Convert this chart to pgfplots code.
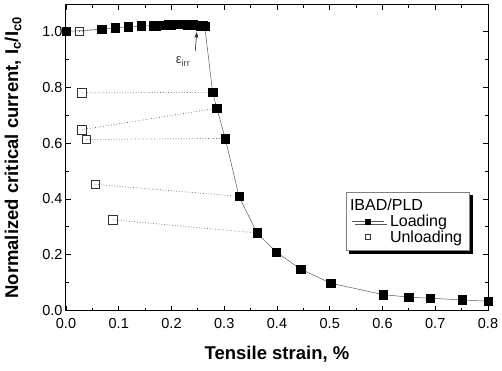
\documentclass[border=0pt]{standalone}
\usepackage{fontspec}
\setmainfont{Liberation Sans}
\usepackage{pgfplots}
\pgfplotsset{compat=1.18}
\usetikzlibrary{shadows,arrows.meta}
\pgfplotsset{
  loadleg/.style={legend image code/.code={\draw[mark repeat=2,mark phase=2,##1] plot coordinates {(0pt,0pt) (16pt,0pt) (32pt,0pt)}; \path (36pt,0pt);}},
  unloadleg/.style={legend image code/.code={\path (0pt,0pt) (36pt,0pt); \draw[##1] plot coordinates {(16pt,0pt)};}},
}

\begin{document}
\begin{tikzpicture}
\begin{axis}[
  scale only axis, width=422pt, height=305.5pt,
  xmin=0, xmax=0.8, ymin=0, ymax=1.095,
  xtick={0,0.1,0.2,0.3,0.4,0.5,0.6,0.7,0.8},
  ytick={0,0.2,0.4,0.6,0.8,1.0},
  minor x tick num=1, minor y tick num=1,
  tick align=inside, major tick length=5pt, minor tick length=3pt,
  every tick/.style={black, line width=0.8pt},
  axis line style={line width=1pt},
  /pgf/number format/.cd, fixed, fixed zerofill, precision=1, assume math mode=true, /pgfplots/.cd,
  ticklabel style={font=\fontsize{14.5}{16}\selectfont},
  xticklabel style={yshift=-4pt},
  xlabel={\bfseries Tensile strain, \%},
  ylabel={\bfseries Normalized critical current, I\textsubscript{c}/I\textsubscript{c0}},
  label style={font=\fontsize{18.5}{20}\selectfont},
  xlabel style={yshift=-11pt},
  ylabel style={yshift=14pt},
  legend cell align=left,
  legend style={at={(rel axis cs:0.663,0.388)}, anchor=north west, draw=gray, line width=0.5pt,
    fill=white, drop shadow={shadow xshift=3pt, shadow yshift=-3pt, fill=black, opacity=1},
    font=\fontsize{16}{18}\selectfont, inner xsep=5.5pt, inner ysep=5pt, row sep=-1.5pt},
  legend image post style={mark size=2.6pt},
]
\addlegendimage{empty legend}
\addlegendentry{\hspace*{-40pt}IBAD/PLD}

% unloading connectors
\addplot[forget plot, dotted, black!60, line width=0.7pt] coordinates {(0.025,1.0) (0.068,1.008)};
\addplot[forget plot, dotted, black!60, line width=0.7pt] coordinates {(0.030,0.780) (0.278,0.782)};
\addplot[forget plot, dotted, black!60, line width=0.7pt] coordinates {(0.030,0.648) (0.286,0.725)};
\addplot[forget plot, dotted, black!60, line width=0.7pt] coordinates {(0.039,0.613) (0.302,0.617)};
\addplot[forget plot, dotted, black!60, line width=0.7pt] coordinates {(0.056,0.452) (0.328,0.409)};
\addplot[forget plot, dotted, black!60, line width=0.7pt] coordinates {(0.089,0.325) (0.362,0.278)};

% loading
\addplot[black!65, line width=0.5pt, mark=square*, mark size=4.2pt,
  mark options={fill=black, draw=black, solid}, loadleg] coordinates {
  (0.0,1.0) (0.068,1.008) (0.093,1.013) (0.118,1.017) (0.143,1.02)
  (0.165,1.02) (0.170,1.021) (0.175,1.022) (0.180,1.022) (0.185,1.023) (0.190,1.023)
  (0.195,1.024) (0.200,1.024) (0.205,1.025) (0.210,1.025) (0.215,1.025) (0.220,1.025)
  (0.225,1.025) (0.230,1.024) (0.235,1.024) (0.240,1.024) (0.245,1.023) (0.250,1.022)
  (0.255,1.021) (0.260,1.02) (0.263,1.018)
  (0.278,0.782) (0.286,0.724) (0.302,0.616) (0.328,0.409) (0.362,0.278)
  (0.399,0.209) (0.445,0.148) (0.502,0.098) (0.601,0.057) (0.650,0.048)
  (0.690,0.044) (0.751,0.038) (0.800,0.033)
};
\addlegendentry{Loading}

% unloading
\addplot[only marks, mark=square, mark size=4.2pt,
  mark options={draw=black!80, line width=0.6pt, fill=white}, unloadleg] coordinates {
  (0.025,1.0) (0.030,0.780) (0.030,0.648) (0.039,0.613) (0.056,0.452) (0.089,0.325)
};
\addlegendentry{Unloading}

\node[font=\fontsize{13}{14}\selectfont, text=black!75] at (axis cs:0.222,0.893) {ε\textsubscript{irr}};
\draw[-{Stealth[length=6pt,width=4pt]}, black!85, line width=0.6pt] (axis cs:0.245,0.93) -- (axis cs:0.248,0.998);
\end{axis}
\path ([xshift=-66pt,yshift=-59.5pt]current axis.south west) rectangle ([xshift=14pt,yshift=5pt]current axis.north east);
\end{tikzpicture}
\end{document}
